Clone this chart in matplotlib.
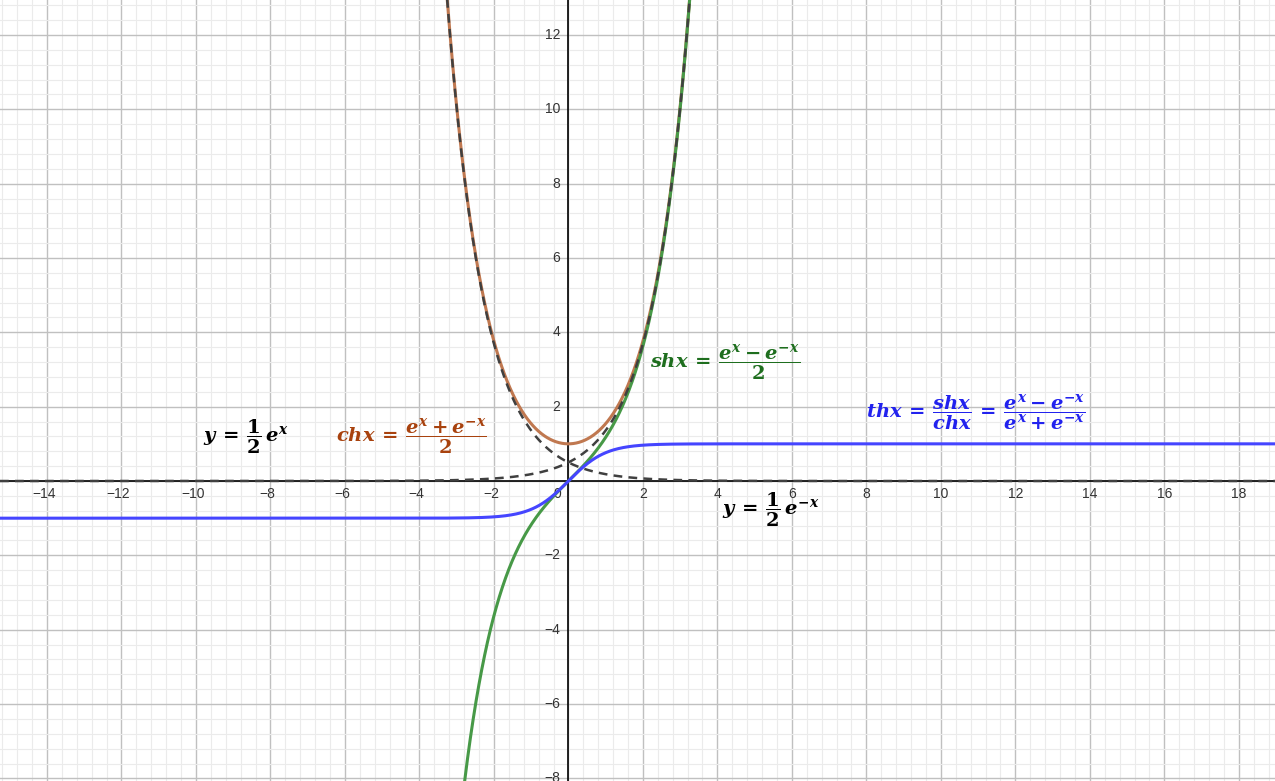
import numpy as np
import matplotlib
matplotlib.use("Agg")
import matplotlib.pyplot as plt
from matplotlib.ticker import MultipleLocator

# ---- data / view ----
x_min, x_max = -15.26, 18.97
y_min, y_max = -8.07, 12.94
x_ticks = [-14, -12, -10, -8, -6, -4, -2, 2, 4, 6, 8, 10, 12, 14, 16, 18]
y_ticks = [-8, -6, -4, -2, 2, 4, 6, 8, 10, 12]

x = np.linspace(x_min, x_max, 4000)
half_exp_pos = 0.5 * np.exp(x)
half_exp_neg = 0.5 * np.exp(-x)
ch = np.cosh(x)
sh = np.sinh(x)
th = np.tanh(x)

plt.rcParams["mathtext.fontset"] = "custom"
plt.rcParams["mathtext.it"] = "DejaVu Serif:italic:bold"
plt.rcParams["mathtext.rm"] = "DejaVu Serif:bold"
plt.rcParams["mathtext.bf"] = "DejaVu Serif:bold"

fig = plt.figure(figsize=(12.75, 7.81), dpi=100)
ax = fig.add_axes([0, 0, 1, 1])
ax.set_xlim(x_min, x_max)
ax.set_ylim(y_min, y_max)

# grid
ax.xaxis.set_major_locator(MultipleLocator(2))
ax.yaxis.set_major_locator(MultipleLocator(2))
ax.xaxis.set_minor_locator(MultipleLocator(0.4))
ax.yaxis.set_minor_locator(MultipleLocator(0.4))
ax.grid(which="minor", color="#ebebeb", linewidth=0.8, zorder=0)
ax.grid(which="major", color="#c0c0c0", linewidth=1.0, zorder=0)
ax.tick_params(which="both", length=0, labelbottom=False, labelleft=False)
for s in ax.spines.values():
    s.set_visible(False)
ax.set_axisbelow(True)

# axes lines
ax.axhline(0, color="black", linewidth=1.2, zorder=2)
ax.axvline(0, color="black", linewidth=1.2, zorder=2)

# tick labels
tfs = 10
for t in x_ticks:
    ax.annotate("\u2212" + str(abs(t)) if t < 0 else str(t), (t, 0),
                xytext=(-2 if t < 0 else 0, -4.5), textcoords="offset points",
                ha="center", va="top", fontsize=tfs, color="#333333",
                family="Liberation Sans")
for t in y_ticks:
    ax.annotate("\u2212" + str(abs(t)) if t < 0 else str(t), (0, t),
                xytext=(-6, 0), textcoords="offset points",
                ha="right", va="center", fontsize=tfs, color="#333333",
                family="Liberation Sans")
ax.annotate("0", (0, 0), xytext=(-5, -4.5), textcoords="offset points",
            ha="right", va="top", fontsize=tfs, color="#333333",
            family="Liberation Sans")

# curves
ax.plot(x, ch, color="#c07850", linewidth=2.2, zorder=3)
ax.plot(x, sh, color="#479947", linewidth=2.2, zorder=3)
ax.plot(x, th, color="#4545ff", linewidth=2.2, zorder=3)
ax.plot(x, half_exp_pos, color="#404040", linewidth=1.8, linestyle=(0, (3.5, 2.5)), zorder=4)
ax.plot(x, half_exp_neg, color="#404040", linewidth=1.8, linestyle=(0, (3.5, 2.5)), zorder=4)

# formula labels
fs = 14
ax.text(-9.82, 1.18, r"$y\,=\,\dfrac{1}{2}\,e^{x}$", color="black", fontsize=fs,
        ha="left", va="center", zorder=5)
ax.text(-6.24, 1.18, r"$chx\,=\,\dfrac{e^{x}+e^{-x}}{2}$", color="#a8420e", fontsize=fs,
        ha="left", va="center", zorder=5)
ax.text(2.19, 3.17, r"$shx\,=\,\dfrac{e^{x}-e^{-x}}{2}$", color="#1e6e1e", fontsize=fs,
        ha="left", va="center", zorder=5)
ax.text(7.99, 1.83, r"$thx\,=\,\dfrac{shx}{chx}\,=\,\dfrac{e^{x}-e^{-x}}{e^{x}+e^{-x}}$",
        color="#2222ee", fontsize=fs, ha="left", va="center", zorder=5)
ax.text(4.12, -0.78, r"$y\,=\,\dfrac{1}{2}\,e^{-x}$", color="black", fontsize=fs,
        ha="left", va="center", zorder=5)

fig.savefig("out.png", dpi=100)
